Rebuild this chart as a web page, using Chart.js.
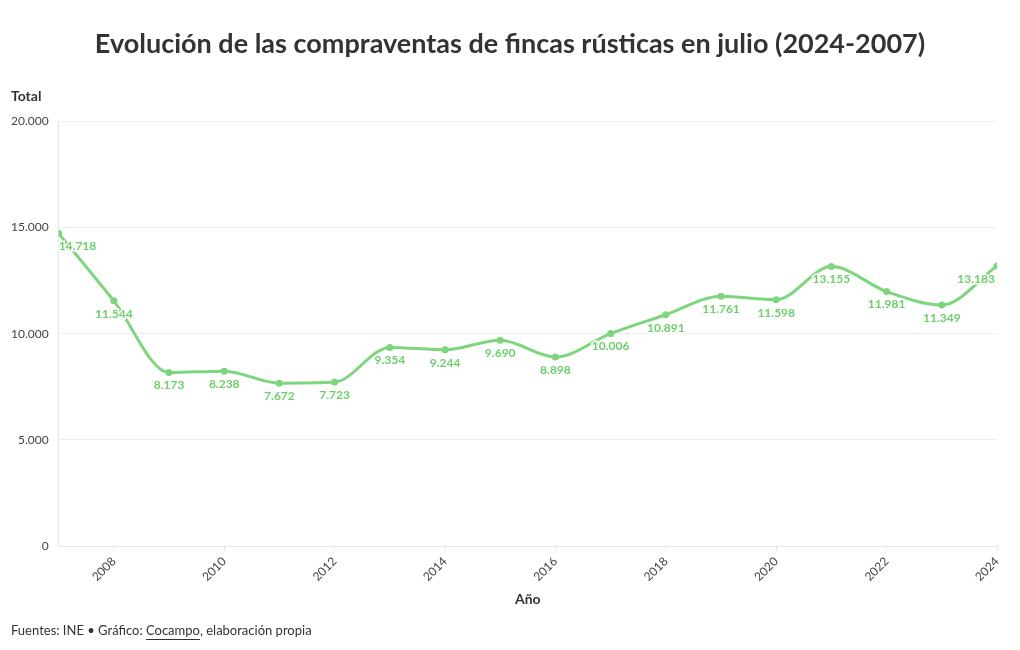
<!DOCTYPE html>
<html>
<head>
<meta charset="utf-8">
<script src="https://cdn.jsdelivr.net/npm/chart.js@4"></script>
<style>
body { margin:0; background:#fff; }
#wrap { position:relative; width:1020px; height:650px; }
</style>
</head>
<body>
<div id="wrap"><canvas id="chart" width="1020" height="650"></canvas></div>
<script>
var years = [2007,2008,2009,2010,2011,2012,2013,2014,2015,2016,2017,2018,2019,2020,2021,2022,2023,2024];
var totals = [14718,11544,8173,8238,7672,7723,9354,9244,9690,8898,10006,10891,11761,11598,13155,11981,11349,13183];
var yearTicks = [2008,2010,2012,2014,2016,2018,2020,2022,2024];
var totalTicks = [0,5000,10000,15000,20000];

var FONT = "Lato, 'Open Sans', sans-serif";
var green = "#7dd67d";
var labelGreen = "#6ccf6c";

function fmt(v) { // separador de miles con punto
  return String(Math.round(v)).replace(/\B(?=(\d{3})+(?!\d))/g, ".");
}

var points = [];
for (var i = 0; i < years.length; i++) {
  points.push({ x: years[i], y: totals[i] });
}

// textos fijos: titulo, "Total", fuente
var textPlugin = {
  id: "texts",
  afterDraw: function(chart) {
    var ctx = chart.ctx;
    ctx.save();
    ctx.fillStyle = "#333";
    ctx.textBaseline = "middle";
    ctx.font = "bold 27px " + FONT;
    ctx.textAlign = "center";
    ctx.fillText("Evolución de las compraventas de fincas rústicas en julio (2024-2007)", 510, 44);
    ctx.textAlign = "left";
    ctx.font = "bold 14px " + FONT;
    ctx.fillText("Total", 11, 96);
    ctx.font = "13px " + FONT;
    var a = "Fuentes: INE • Gráfico: ";
    ctx.fillText(a, 11, 631);
    var w = ctx.measureText(a).width;
    ctx.fillText("Cocampo", 11 + w, 631);
    var w2 = ctx.measureText("Cocampo").width;
    ctx.fillRect(11 + w, 639, w2, 1);
    ctx.fillText(", elaboración propia", 11 + w + w2, 631);
    ctx.restore();
  }
};

// etiquetas de valores debajo de cada punto
var labelPlugin = {
  id: "valueLabels",
  afterDatasetsDraw: function(chart) {
    var ctx = chart.ctx;
    var meta = chart.getDatasetMeta(0);
    ctx.save();
    ctx.font = "bold 12px " + FONT;
    ctx.textBaseline = "middle";
    ctx.lineWidth = 3;
    ctx.strokeStyle = "#fff";
    ctx.fillStyle = labelGreen;
    meta.data.forEach(function(p, i) {
      var txt = fmt(totals[i]);
      var x = p.x, y = p.y + 13;
      ctx.textAlign = "center";
      if (i == 0) { ctx.textAlign = "left"; x = p.x; }
      if (i == meta.data.length - 1) { ctx.textAlign = "right"; x = p.x - 2; }
      ctx.strokeText(txt, x, y);
      ctx.fillText(txt, x, y);
    });
    ctx.restore();
  }
};

var ctx = document.getElementById("chart").getContext("2d");
var myChart = new Chart(ctx, {
  type: "line",
  data: {
    datasets: [{
      data: points,
      borderColor: green,
      backgroundColor: green,
      borderWidth: 3,
      pointRadius: 3.5,
      pointBorderWidth: 0,
      cubicInterpolationMode: "monotone"
    }]
  },
  options: {
    responsive: false,
    animation: false,
    layout: { padding: { top: 121, left: 1, right: 23, bottom: 38 } },
    plugins: { legend: { display: false }, tooltip: { enabled: false } },
    scales: {
      x: {
        type: "linear",
        min: 2007,
        max: 2024,
        afterBuildTicks: function(scale) {
          scale.ticks = yearTicks.map(function(v) { return { value: v }; });
        },
        grid: { drawOnChartArea: false, color: "#e6e6e6", tickLength: 5 },
        border: { display: true, color: "#e6e6e6" },
        ticks: {
          maxRotation: 45, minRotation: 45, color: "#444",
          font: { family: FONT, size: 12 },
          callback: function(v) { return String(v); }
        },
        title: { display: true, text: "Año", color: "#333", font: { family: FONT, size: 14, weight: "bold" }, padding: { top: 4 } }
      },
      y: {
        min: 0,
        max: 20000,
        afterBuildTicks: function(scale) {
          scale.ticks = totalTicks.map(function(v) { return { value: v }; });
        },
        grid: { color: "#eeeeee", drawTicks: false },
        border: { display: true, color: "#e6e6e6" },
        ticks: { color: "#444", padding: 10, font: { family: FONT, size: 12 }, callback: function(v) { return fmt(v); } }
      }
    }
  },
  plugins: [labelPlugin, textPlugin]
});
</script>
</body>
</html>
